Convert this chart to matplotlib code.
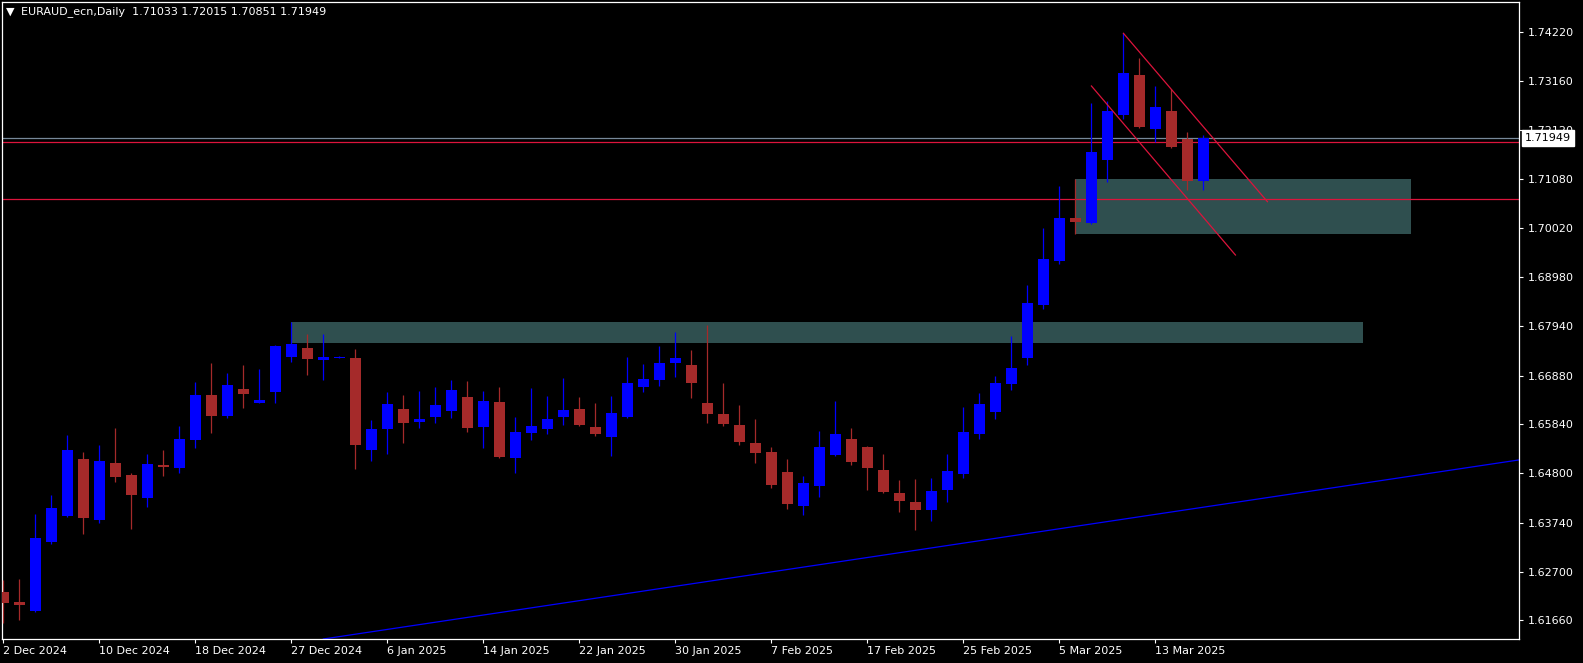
import matplotlib
matplotlib.use("Agg")
import matplotlib.pyplot as plt
import matplotlib.transforms as mtransforms
import numpy as np

# EURAUD daily candles, 2 Dec 2024 .. 18 Mar 2025
opens = [1.62263, 1.62056, 1.61857, 1.63330, 1.63891, 1.65101, 1.63806, 1.65016, 1.64759, 1.64275,
         1.64973, 1.64915, 1.65513, 1.66467, 1.66025, 1.66595, 1.66302, 1.66537, 1.67284, 1.67470,
         1.67220, 1.67262, 1.67256, 1.65299, 1.65741, 1.66168, 1.65897, 1.65997, 1.66125, 1.66424,
         1.65784, 1.66317, 1.65129, 1.65662, 1.65741, 1.65997, 1.66168, 1.65784, 1.65570, 1.65997,
         1.66637, 1.66793, 1.67150, 1.67107, 1.66296, 1.66061, 1.65826, 1.65442, 1.65250, 1.64824,
         1.64098, 1.64525, 1.65180, 1.65528, 1.65357, 1.64866, 1.64375, 1.64183, 1.64013, 1.64439,
         1.64781, 1.65634, 1.66104, 1.66701, 1.67256, 1.68387, 1.69326, 1.70244, 1.70137, 1.71482,
         1.72442, 1.73295, 1.72143, 1.72527, 1.71930, 1.71033]
highs = [1.62519, 1.62540, 1.63927, 1.64333, 1.65613, 1.65250, 1.65400, 1.65762, 1.64802, 1.65208,
         1.65293, 1.65805, 1.66751, 1.67150, 1.66936, 1.67107, 1.67022, 1.67534, 1.68025, 1.67768,
         1.67768, 1.67290, 1.67448, 1.65933, 1.66531, 1.66467, 1.66552, 1.66637, 1.66787, 1.66765,
         1.66552, 1.66637, 1.65997, 1.66616, 1.66445, 1.66829, 1.66424, 1.66296, 1.66452, 1.67278,
         1.67128, 1.67512, 1.67811, 1.67427, 1.67960, 1.66723, 1.66253, 1.65955, 1.65357, 1.65101,
         1.64738, 1.65698, 1.66339, 1.65762, 1.65370, 1.65208, 1.64653, 1.64674, 1.64695, 1.65208,
         1.66211, 1.66509, 1.66872, 1.67726, 1.68814, 1.70030, 1.70927, 1.71076, 1.72698, 1.72741,
         1.74185, 1.73658, 1.73061, 1.72997, 1.72079, 1.72015]
lows = [1.61595, 1.61665, 1.61840, 1.63287, 1.63870, 1.63507, 1.63742, 1.64617, 1.63613, 1.64077,
        1.64745, 1.64809, 1.65342, 1.65662, 1.65982, 1.66196, 1.66290, 1.66290, 1.67177, 1.66900,
        1.66793, 1.67250, 1.64888, 1.65058, 1.65208, 1.65449, 1.65769, 1.65869, 1.65976, 1.65684,
        1.65342, 1.65122, 1.64809, 1.65513, 1.65641, 1.65833, 1.65815, 1.65598, 1.65165, 1.65985,
        1.66537, 1.66665, 1.66851, 1.66403, 1.65869, 1.65805, 1.65400, 1.65016, 1.64482, 1.64034,
        1.63906, 1.64290, 1.65165, 1.64973, 1.64439, 1.64375, 1.63970, 1.63586, 1.63778, 1.64183,
        1.64695, 1.65528, 1.65961, 1.66573, 1.67107, 1.68302, 1.69262, 1.69909, 1.70116, 1.71012,
        1.72357, 1.72164, 1.71866, 1.71745, 1.70841, 1.70851]
closes = [1.62034, 1.61992, 1.63415, 1.64055, 1.65293, 1.63848, 1.65058, 1.64723, 1.64339, 1.64994,
          1.64937, 1.65528, 1.66467, 1.66025, 1.66680, 1.66494, 1.66360, 1.67512, 1.67555, 1.67241,
          1.67278, 1.67272, 1.65400, 1.65741, 1.66275, 1.65876, 1.65955, 1.66253, 1.66573, 1.65762,
          1.66339, 1.65144, 1.65677, 1.65805, 1.65955, 1.66147, 1.65826, 1.65641, 1.66083, 1.66723,
          1.66808, 1.67150, 1.67256, 1.66723, 1.66061, 1.65848, 1.65464, 1.65229, 1.64546, 1.64141,
          1.64589, 1.65357, 1.65634, 1.65037, 1.64909, 1.64397, 1.64205, 1.64013, 1.64418, 1.64845,
          1.65677, 1.66275, 1.66723, 1.67043, 1.68430, 1.69369, 1.70244, 1.70159, 1.71652, 1.72527,
          1.73338, 1.72186, 1.72613, 1.71759, 1.71033, 1.71949]

date_labels = ["2 Dec 2024", "10 Dec 2024", "18 Dec 2024", "27 Dec 2024", "6 Jan 2025",
               "14 Jan 2025", "22 Jan 2025", "30 Jan 2025", "7 Feb 2025", "17 Feb 2025",
               "25 Feb 2025", "5 Mar 2025", "13 Mar 2025"]
price_ticks = [1.61660, 1.62700, 1.63740, 1.64800, 1.65840, 1.66880, 1.67940,
               1.68980, 1.70020, 1.71080, 1.72120, 1.73160, 1.74220]

symbol = "EURAUD_ecn,Daily"
bid = 1.71949
red_levels = [1.71859, 1.70643]
# zones: (from bar, to bar, low, high)
zones = [(18, 85, 1.67583, 1.68025), (67, 88, 1.69909, 1.71076)]
# trend lines: ((bar, price), (bar, price))
channel_lines = [((70, 1.74185), (79, 1.70592)), ((68, 1.73061), (77, 1.69454))]
blue_trend = ((20, 1.61260), (90, 1.64840))

BULL = "#0000ff"
BEAR = "#a52a2a"
ZONE = "#2f4f4f"
RED = "#dc143c"

W, H = 1583, 663
fig = plt.figure(figsize=(W / 100, H / 100), dpi=100, facecolor="black")
ax = fig.add_axes([2 / W, 24 / H, 1517 / W, 637 / H], facecolor="black")

o = np.array(opens)
c = np.array(closes)
hi = np.array(highs)
lo = np.array(lows)
x = np.arange(len(o))
up = c >= o
colors = np.where(up, BULL, BEAR)

for x0, x1, zl, zh in zones:
    ax.fill_between([x0, x1], zl, zh, color=ZONE, lw=0, zorder=1)

ax.vlines(x, lo, hi, colors=colors, lw=0.9, zorder=3)
body_low = np.minimum(o, c)
body_h = np.maximum(np.abs(c - o), 0.00022)
ax.bar(x, body_h, bottom=body_low, width=0.68, color=colors, lw=0, zorder=4)

for lvl in red_levels:
    ax.axhline(lvl, color=RED, lw=0.9, zorder=2)
ax.axhline(bid, color="#778899", lw=0.9, zorder=2)

for (xa, ya), (xb, yb) in channel_lines:
    ax.plot([xa, xb], [ya, yb], color=RED, lw=0.9, zorder=5)
ax.axline(blue_trend[0], blue_trend[1], color=BULL, lw=0.9, zorder=2)

ax.set_xlim(-0.08, 94.72)
ax.set_ylim(1.61260, 1.74853)

ax.yaxis.tick_right()
ax.set_yticks(price_ticks)
ax.set_yticklabels([f"{p:.5f}" for p in price_ticks])
ax.set_xticks(np.arange(0, len(o), 6)[:len(date_labels)])
ax.set_xticklabels(date_labels, ha="left")
ax.tick_params(colors="white", labelcolor="white", labelsize=8, length=3, width=0.8, pad=3)
ax.tick_params(axis="x", pad=2)
for s in ax.spines.values():
    s.set_color("white")
    s.set_linewidth(0.9)

tr = mtransforms.blended_transform_factory(ax.transAxes, ax.transData)
ax.text(1.0, bid, f"{bid:.5f}", transform=mtransforms.offset_copy(tr, fig=fig, x=6, y=0, units="dots"),
        ha="left", va="center", fontsize=8, color="black", zorder=10, clip_on=False,
        bbox=dict(boxstyle="square,pad=0.25", fc="white", ec="white"))

fig.text(6 / W, 1 - 12 / H, "\u25bc", color="white", fontsize=8, va="center", ha="left")
fig.text(21 / W, 1 - 12 / H, symbol + "  " + " ".join(f"{v:.5f}" for v in [opens[-1], highs[-1], lows[-1], closes[-1]]),
         color="white", fontsize=8, va="center", ha="left")

plt.savefig("out.png", dpi=100, facecolor="black")
